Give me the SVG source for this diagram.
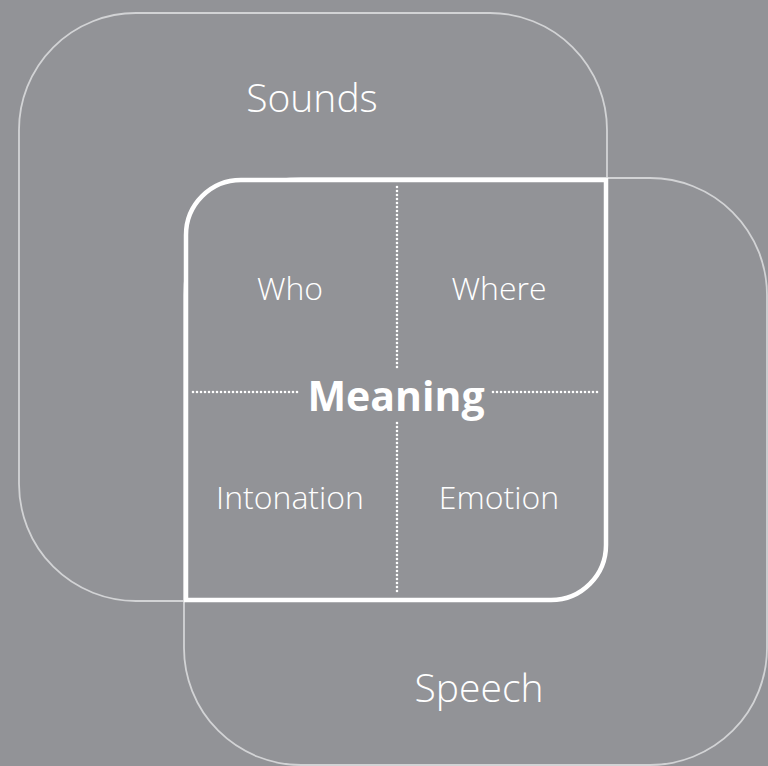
<svg xmlns="http://www.w3.org/2000/svg" width="768" height="766" viewBox="0 0 768 766">
<style>
.set{fill:none;stroke:#d2d3d5;stroke-width:1.8}
.core{fill:#929397;stroke:#ffffff;stroke-width:4.5;stroke-linejoin:miter}
.dot{fill:none;stroke:#ffffff;stroke-width:2.6;stroke-linecap:round;stroke-dasharray:0 4}
.lbl{font-family:"Open Sans","Liberation Sans",sans-serif;font-weight:300;fill:#ffffff;text-anchor:middle}
.big{font-size:39px}
.sub{font-size:32px}
.main{font-family:"Open Sans","Liberation Sans",sans-serif;font-weight:700;font-size:41px;fill:#ffffff;text-anchor:middle}
</style>
<rect width="768" height="766" fill="#929397"/>
<g id="sounds">
<rect class="set" x="19" y="13" width="588" height="588" rx="117" ry="117"/>
<text class="lbl big" x="312" y="112">Sounds</text>
</g>
<g id="speech">
<rect class="set" x="184" y="178" width="583" height="587" rx="117" ry="117"/>
<text class="lbl big" x="479" y="702">Speech</text>
</g>
<g id="meaning">
<path class="core" d="M186,235 A55,55 0 0 1 241,180 L606,180 L606,545 A55,55 0 0 1 551,600 L186,600 Z"/>
<text class="main" x="396" y="411">Meaning</text>
</g>
<g id="dividers">
<line class="dot" x1="397" y1="187" x2="397" y2="369"/>
<line class="dot" x1="397" y1="423" x2="397" y2="595"/>
<line class="dot" x1="193" y1="392" x2="300" y2="392"/>
<line class="dot" x1="493" y1="392" x2="600" y2="392"/>
</g>
<g id="who"><text class="lbl sub" x="290" y="300">Who</text></g>
<g id="where"><text class="lbl sub" x="499" y="300">Where</text></g>
<g id="intonation"><text class="lbl sub" x="290" y="509">Intonation</text></g>
<g id="emotion"><text class="lbl sub" x="499" y="509">Emotion</text></g>
</svg>
